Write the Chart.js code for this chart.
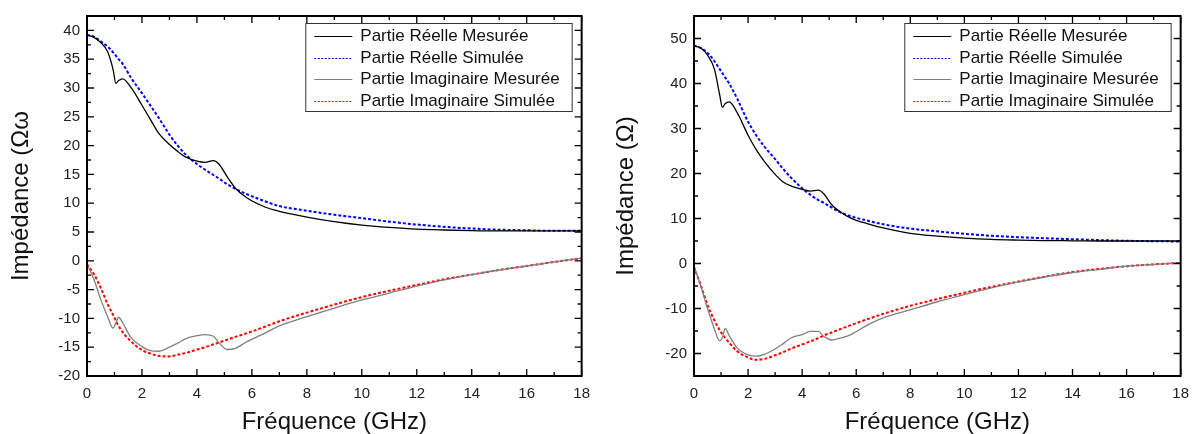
<!DOCTYPE html>
<html>
<head>
<meta charset="utf-8">
<script src="https://cdn.jsdelivr.net/npm/chart.js@4"></script>
<style>
  html, body { margin: 0; padding: 0; background: #fff; }
  #wrap { position: relative; width: 1198px; height: 434px; }
  #left-chart { position: absolute; left: 0; top: 0; }
  #right-chart { position: absolute; left: 599px; top: 0; }
</style>
</head>
<body>
<div id="wrap">
  <canvas id="left-chart" width="599" height="434"></canvas>
  <canvas id="right-chart" width="599" height="434"></canvas>
</div>
<script>
// charts.js - impedance, measured vs simulated

const freq = [0, 0.25, 0.5, 0.75, 0.95, 1.05, 1.15, 1.3, 1.6, 2, 2.3, 2.6, 3, 3.3, 3.6, 4, 4.3, 4.6, 4.8, 5.1, 5.4, 5.8, 6.5, 7, 8, 9, 10, 11, 12, 13, 14, 15, 16, 17, 18];

const seriesLabels = ['Partie Réelle Mesurée', 'Partie Réelle Simulée', 'Partie Imaginaire Mesurée', 'Partie Imaginaire Simulée'];

// left figure
const leftReMeas = [39.2, 38.8, 37.9, 36.3, 33.2, 30.8, 31.3, 31.6, 30.1, 27.0, 24.6, 22.2, 20.2, 19.0, 18.0, 17.3, 17.1, 17.4, 16.8, 14.6, 12.6, 11.0, 9.3, 8.6, 7.6, 6.8, 6.2, 5.8, 5.5, 5.35, 5.25, 5.2, 5.2, 5.2, 5.2];
const leftReSim = [39.2, 38.9, 38.1, 37.2, 36.2, 35.6, 35.0, 34.2, 31.8, 29.1, 27.0, 24.9, 21.9, 20.0, 18.4, 16.8, 15.8, 14.9, 14.3, 13.3, 12.5, 11.6, 10.3, 9.5, 8.7, 8.0, 7.4, 6.8, 6.3, 5.9, 5.6, 5.4, 5.3, 5.2, 5.2];
const leftImMeas = [-0.6, -3.2, -6.7, -9.7, -11.7, -10.8, -9.8, -10.8, -13.3, -14.9, -15.6, -15.7, -15.0, -14.3, -13.5, -13.0, -12.8, -13.1, -14.2, -15.4, -15.2, -14.1, -12.5, -11.3, -9.7, -8.2, -6.8, -5.6, -4.4, -3.3, -2.4, -1.6, -0.9, -0.2, 0.45];
const leftImSim = [-0.6, -2.3, -4.7, -7.5, -9.4, -10.4, -11.3, -12.4, -14.0, -15.5, -16.1, -16.5, -16.6, -16.3, -16.0, -15.4, -15.0, -14.5, -14.2, -13.7, -13.2, -12.6, -11.4, -10.5, -9.0, -7.6, -6.3, -5.2, -4.2, -3.2, -2.4, -1.6, -0.9, -0.2, 0.45];

// right figure
const rightReMeas = [48.4, 47.9, 46.3, 43.3, 37.5, 34.7, 35.5, 35.9, 33.5, 28.5, 25.3, 22.7, 19.8, 18.1, 17.2, 16.5, 16.1, 16.3, 15.5, 13.0, 11.5, 10.1, 8.7, 7.9, 6.7, 6.1, 5.65, 5.35, 5.2, 5.1, 5.05, 5.0, 5.0, 5.0, 5.0];
const rightReSim = [48.4, 47.9, 46.8, 45.0, 43.2, 42.3, 41.4, 40.0, 36.6, 31.5, 28.5, 26.0, 23.2, 21.0, 19.0, 16.7, 15.3, 14.1, 13.5, 12.4, 11.4, 10.5, 9.4, 8.7, 7.75, 7.15, 6.6, 6.15, 5.85, 5.6, 5.4, 5.2, 5.05, 4.95, 4.9];
const rightImMeas = [-0.5, -5.0, -10.0, -14.5, -17.2, -16.5, -14.4, -16.0, -18.8, -20.3, -20.6, -20.2, -19.0, -17.8, -16.5, -15.8, -15.1, -15.1, -16.2, -17.0, -16.6, -15.8, -13.4, -12.1, -10.3, -8.5, -6.9, -5.4, -4.1, -3.0, -2.0, -1.3, -0.6, -0.2, 0.15];
const rightImSim = [-0.8, -4.8, -9.2, -12.6, -14.8, -15.7, -16.5, -17.6, -19.5, -20.9, -21.4, -21.2, -20.4, -19.7, -18.9, -18.0, -17.3, -16.6, -16.0, -15.3, -14.6, -13.7, -12.2, -11.2, -9.4, -7.9, -6.5, -5.2, -4.0, -2.9, -1.9, -1.2, -0.6, -0.2, 0.15];

const lineColors = ['#000000', '#0000ff', '#808080', '#ff0000'];
const lineDashes = [[], [3, 2], [], [3, 2]];
const lineWidths = [1.3, 2, 1.3, 2];

Chart.defaults.font.family = '"Liberation Sans", Arial, sans-serif';
Chart.defaults.color = '#1a1a1a';

function isMajor(v, step) {
    const r = v / step;
    return Math.abs(r - Math.round(r)) < 1e-6;
}

// inward ticks on the four sides + thick frame
const frameTicks = {
    id: 'frameTicks',
    afterDatasetsDraw(chart, args, opts) {
        const { ctx, chartArea: a, scales: { x, y } } = chart;
        ctx.save();
        ctx.strokeStyle = '#000';
        ctx.lineWidth = 1.3;
        ctx.beginPath();
        x.ticks.forEach(t => {
            const px = x.getPixelForValue(t.value);
            const len = isMajor(t.value, opts.xMajor) ? 7 : 4;
            ctx.moveTo(px, a.bottom); ctx.lineTo(px, a.bottom - len);
            ctx.moveTo(px, a.top); ctx.lineTo(px, a.top + len);
        });
        y.ticks.forEach(t => {
            const py = y.getPixelForValue(t.value);
            const len = isMajor(t.value, opts.yMajor) ? 7 : 4;
            ctx.moveTo(a.left, py); ctx.lineTo(a.left + len, py);
            ctx.moveTo(a.right, py); ctx.lineTo(a.right - len, py);
        });
        ctx.stroke();
        ctx.lineWidth = 2;
        ctx.strokeRect(a.left, a.top, a.right - a.left, a.bottom - a.top);
        ctx.restore();
    }
};

// legend in a box, top right of the plot
const boxLegend = {
    id: 'boxLegend',
    afterDraw(chart) {
        const { ctx, chartArea: a } = chart;
        const sets = chart.data.datasets;
        ctx.save();
        ctx.font = '17px "Liberation Sans", Arial, sans-serif';
        const textW = Math.max(...sets.map(d => ctx.measureText(d.label).width));
        const w = 9 + 38 + 8 + textW + 12;
        const h = 88;
        const left = a.right - 10 - w;
        const top = a.top + 7;
        ctx.fillStyle = '#fff';
        ctx.fillRect(left, top, w, h);
        ctx.strokeStyle = '#333';
        ctx.lineWidth = 1;
        ctx.strokeRect(left + 0.5, top + 0.5, w, h);
        sets.forEach((d, i) => {
            const cy = Math.round(top + 13 + i * 21.5) + 0.5;
            ctx.strokeStyle = d.borderColor;
            ctx.lineWidth = d.borderDash.length ? 1.2 : 1;
            ctx.setLineDash(d.borderDash.length ? [2, 1.5] : []);
            ctx.beginPath();
            ctx.moveTo(left + 9, cy);
            ctx.lineTo(left + 47, cy);
            ctx.stroke();
            ctx.setLineDash([]);
            ctx.fillStyle = '#111';
            ctx.textBaseline = 'middle';
            ctx.fillText(d.label, left + 55, cy);
        });
        ctx.restore();
    }
};

function buildDatasets(seriesList) {
    return seriesList.map((values, i) => ({
        label: seriesLabels[i],
        data: freq.map((f, k) => ({ x: f, y: values[k] })),
        borderColor: lineColors[i],
        borderDash: lineDashes[i],
        borderWidth: lineWidths[i],
        pointRadius: 0,
        fill: false,
        cubicInterpolationMode: 'monotone'
    }));
}

function makeChart(canvasId, seriesList, cfg) {
    const ctx = document.getElementById(canvasId).getContext('2d');
    return new Chart(ctx, {
        type: 'line',
        data: { datasets: buildDatasets(seriesList) },
        options: {
            responsive: false,
            animation: false,
            layout: { padding: { left: 0, top: 13, right: cfg.padRight, bottom: 0 } },
            plugins: {
                legend: { display: false },
                tooltip: { enabled: false },
                frameTicks: { xMajor: 2, yMajor: cfg.yLabelStep }
            },
            scales: {
                x: {
                    type: 'linear',
                    min: 0,
                    max: 18,
                    grid: { display: false, drawTicks: false },
                    border: { display: false },
                    ticks: {
                        stepSize: 1,
                        autoSkip: false,
                        maxRotation: 0,
                        padding: 9,
                        color: '#222',
                        font: { size: 15 },
                        callback: v => isMajor(v, 2) ? v : ''
                    },
                    title: {
                        display: true,
                        text: 'Fréquence (GHz)',
                        color: '#111',
                        font: { size: 24, lineHeight: 1 },
                        padding: { top: 0, bottom: 0 }
                    },
                    afterFit: s => { s.height = 58; }
                },
                y: {
                    min: cfg.yMin,
                    max: cfg.yMax,
                    grid: { display: false, drawTicks: false },
                    border: { display: false },
                    ticks: {
                        stepSize: cfg.yTickStep,
                        autoSkip: false,
                        padding: 7,
                        color: '#222',
                        font: { size: 15 },
                        callback: v => isMajor(v, cfg.yLabelStep) ? v : ''
                    },
                    title: {
                        display: true,
                        text: cfg.yTitle,
                        color: '#111',
                        font: { size: 24, lineHeight: 1 },
                        padding: { top: cfg.titlePad, bottom: 0 }
                    },
                    afterFit: s => { s.width = cfg.yWidth; }
                }
            }
        },
        plugins: [frameTicks, boxLegend]
    });
}

makeChart('left-chart', [leftReMeas, leftReSim, leftImMeas, leftImSim], {
    yMin: -20, yMax: 42.5, yTickStep: 2.5, yLabelStep: 5,
    yTitle: 'Impédance (Ωω', titlePad: 9, yWidth: 87, padRight: 17
});

makeChart('right-chart', [rightReMeas, rightReSim, rightImMeas, rightImSim], {
    yMin: -25, yMax: 55, yTickStep: 5, yLabelStep: 10,
    yTitle: 'Impédance (Ω)', titlePad: 15, yWidth: 95, padRight: 8
});
</script>
</body>
</html>
